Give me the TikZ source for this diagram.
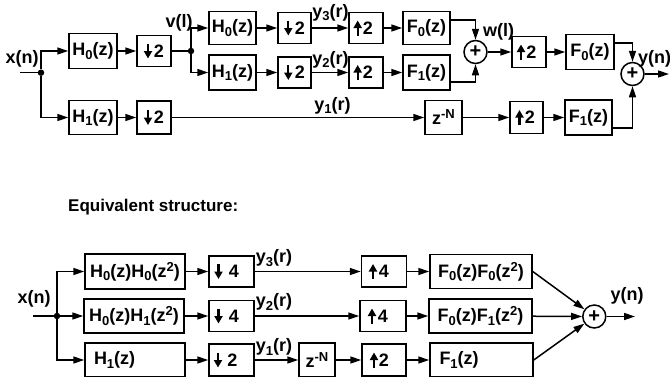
\documentclass[tikz,border=0pt]{standalone}
\usepackage{fontspec}
\setmainfont{Liberation Sans}
\usetikzlibrary{arrows.meta,calc}
\newcommand\sbs[1]{\raisebox{-3.5pt}{\fontsize{13}{13}\selectfont #1}}
\newcommand\sps[1]{\raisebox{6pt}{\fontsize{13}{13}\selectfont #1}}
\tikzset{
  every node/.style={font=\fontsize{18}{21}\selectfont\bfseries},
  box/.style={draw, line width=1.5pt, inner sep=0pt},
  lbox/.style={box, align=left, inner xsep=#1},
  lbl/.style={inner sep=0pt},
  dot/.style={circle, fill, inner sep=0pt, minimum size=6.5pt},
  sumc/.style={circle, draw, line width=1.5pt, minimum size=23pt, inner sep=0pt, font=\fontsize{20}{20}\selectfont\bfseries},
  wire/.style={line width=1.5pt},
  conn/.style={line width=1.5pt, -{Triangle[length=11pt,width=7pt]}},
  symarr/.style={line width=2.3pt, -{Triangle[length=7.5pt,width=8pt]}}
}
\begin{document}
\begin{tikzpicture}[x=1pt,y=-1pt]
\useasboundingbox (0,0) rectangle (670,376);
\clip (0,0) rectangle (670,376);

% ---------- top structure ----------
\coordinate (xin) at (20,72.7);
\node[dot] (j1) at (41,72.7) {};
\node[box, minimum width=48pt, minimum height=35pt] (H0a) at (93,51) {H\sbs{0}(z)};
\node[box, minimum width=34pt, minimum height=31pt] (D1) at (154,51) {\hspace*{10pt}2};
\node[dot] (j2) at (191,51) {};

\node[box, minimum width=47pt, minimum height=33pt] (H0b) at (232.5,28) {H\sbs{0}(z)};
\node[box, minimum width=33pt, minimum height=31pt] (D2) at (294.5,28) {\hspace*{11pt}2};
\node[box, minimum width=34pt, minimum height=31pt] (U1) at (366,28) {\hspace*{4pt}2};
\node[box, minimum width=47pt, minimum height=33pt] (F0a) at (426.5,28) {F\sbs{0}(z)};

\node[box, minimum width=47pt, minimum height=35pt] (H1b) at (232.5,72.5) {H\sbs{1}(z)};
\node[box, minimum width=33pt, minimum height=31pt] (D3) at (294.5,72.5) {\hspace*{11pt}2};
\node[box, minimum width=34pt, minimum height=31pt] (U2) at (366,72.5) {\hspace*{4pt}2};
\node[box, minimum width=47pt, minimum height=35pt] (F1a) at (426.5,72.5) {F\sbs{1}(z)};

\node[sumc] (S1) at (475.5,52) {+};
\node[box, minimum width=34pt, minimum height=31pt] (U3) at (529,52) {\hspace*{4.6pt}2};
\node[box, minimum width=48pt, minimum height=35pt] (F0b) at (590,52) {F\sbs{0}(z)};
\node[sumc] (S2) at (632.5,74) {+};
\coordinate (yout) at (669,74);

\node[box, minimum width=48pt, minimum height=34pt] (H1a) at (93,117.5) {H\sbs{1}(z)};
\node[box, minimum width=34pt, minimum height=33pt] (D4) at (154,117.5) {\hspace*{10pt}2};
\node[box, minimum width=37pt, minimum height=34pt] (Z1) at (443.5,117.5) {z\sps{-N}};
\node[box, minimum width=33pt, minimum height=32pt] (U4) at (526.5,117.5) {\hspace*{7pt}2};
\node[box, minimum width=47pt, minimum height=35pt] (F1b) at (588.5,117.5) {F\sbs{1}(z)};

% sampler symbols (top)
\draw[symarr] ($(D1.center)+(-6,-7.5)$) -- ++(0,15);
\draw[symarr] ($(D2.center)+(-6.2,-7.5)$) -- ++(0,15);
\draw[symarr] ($(D3.center)+(-6.2,-7.5)$) -- ++(0,15);
\draw[symarr] ($(D4.center)+(-6,-7.5)$) -- ++(0,15);
\draw[symarr] ($(U1.center)+(-8.3,7.5)$) -- ++(0,-15);
\draw[symarr] ($(U2.center)+(-8.3,7.5)$) -- ++(0,-15);
\draw[symarr] ($(U3.center)+(-8,7.5)$) -- ++(0,-15);
\draw[symarr] ($(U4.center)+(-7,7.5)$) -- ++(0,-15);

% connectors (top)
\draw[wire] (xin) -- (j1);
\draw[conn] (j1) |- (H0a);
\draw[conn] (j1) |- (H1a);
\draw[conn] (H0a) -- (D1);
\draw[wire] (D1) -- (j2);
\draw[conn] (j2) |- (H0b);
\draw[conn] (j2) |- (H1b);
\draw[conn] (H0b) -- (D2);
\draw[conn] (D2) -- (U1);
\draw[conn] (U1) -- (F0a);
\draw[conn] (H1b) -- (D3);
\draw[conn] (D3) -- (U2);
\draw[conn] (U2) -- (F1a);
\draw[conn] ($(F0a.east)+(0,-8)$) -| (S1);
\draw[conn] ($(F1a.east)+(0,9.5)$) -| (S1);
\draw[conn] (S1) -- (U3);
\draw[conn] (U3) -- (F0b);
\draw[conn] ($(F0b.east)+(0,-9)$) -| (S2);
\draw[conn] (S2) -- (yout);
\draw[conn] (H1a) -- (D4);
\draw[conn] (D4) -- (Z1);
\draw[conn] (Z1) -- (U4);
\draw[conn] (U4) -- (F1b);
\draw[conn] ($(F1b.east)+(0,10.5)$) -| (S2);

% labels (top)
\node[lbl] (lxn) at (22,59) {x(n)};
\node[lbl] (lvl) at (179,23) {v(l)};
\node[lbl] (ly3) at (330.5,12.5) {y\sbs{3}(r)};
\node[lbl] (ly2) at (330.5,59.5) {y\sbs{2}(r)};
\node[lbl] (ly1) at (332.5,105.5) {y\sbs{1}(r)};
\node[lbl] (lwl) at (498.5,31.5) {w(l)};
\node[lbl] (lyn) at (654.5,59) {y(n)};

% ---------- equivalent structure ----------
\node[lbl, anchor=west, font=\fontsize{17}{20}\selectfont\bfseries] (eq) at (68,207) {Equivalent structure:};
\node[lbl] (lxn2) at (34,299) {x(n)};
\coordinate (xin2) at (33,316);
\node[dot] (j3) at (57,316) {};

\node[box, minimum width=100pt, minimum height=35pt] (B1) at (135,271.5) {H\sbs{0}(z)H\sbs{0}(z\sps{2})};
\node[box, minimum width=100pt, minimum height=34pt] (B2) at (134,316) {H\sbs{0}(z)H\sbs{1}(z\sps{2})};
\node[lbox=9pt, text width=82pt, minimum height=34pt] (B3) at (135,360) {H\sbs{1}(z)};

\node[box, minimum width=45pt, minimum height=31pt] (D5) at (231.5,271.5) {\hspace*{5pt}4};
\node[box, minimum width=45pt, minimum height=31pt] (D5b) at (231.5,316) {\hspace*{5pt}4};
\node[box, minimum width=45pt, minimum height=32pt] (D6) at (231.5,360) {\hspace*{2pt}2};

\node[box, minimum width=36pt, minimum height=34pt] (Z2) at (317,360) {z\sps{-N}};

\node[box, minimum width=45pt, minimum height=31pt] (U5) at (384,271.5) {4};
\node[box, minimum width=46pt, minimum height=31pt] (U5b) at (383,316) {4};
\node[box, minimum width=44pt, minimum height=32pt] (U6) at (384,360) {2};

\node[box, minimum width=102pt, minimum height=34pt] (FA) at (481,271.5) {F\sbs{0}(z)F\sbs{0}(z\sps{2})};
\node[box, minimum width=103pt, minimum height=34pt] (FB) at (480.5,316) {F\sbs{0}(z)F\sbs{1}(z\sps{2})};
\node[lbox=9.5pt, text width=84pt, minimum height=34pt] (FC) at (481.5,360) {F\sbs{1}(z)};

\node[sumc] (S3) at (594.3,316.5) {+};
\coordinate (yout2) at (635,316.5);

% sampler symbols (bottom)
\draw[symarr] ($(D5.center)+(-13,-7.5)$) -- ++(0,15);
\draw[symarr] ($(D5b.center)+(-13,-7.5)$) -- ++(0,15);
\draw[symarr] ($(D6.center)+(-13.5,-7.5)$) -- ++(0,15);
\draw[symarr] ($(U5.center)+(-11,7.5)$) -- ++(0,-15);
\draw[symarr] ($(U5b.center)+(-11,7.5)$) -- ++(0,-15);
\draw[symarr] ($(U6.center)+(-10,7.5)$) -- ++(0,-15);

% connectors (bottom)
\draw[wire] (xin2) -- (j3);
\draw[conn] (j3) |- (B1);
\draw[conn] (j3) -- (B2);
\draw[conn] (j3) |- (B3);
\draw[conn] (B1) -- (D5);
\draw[conn] (D5) -- (U5);
\draw[conn] (U5) -- (FA);
\draw[conn] (B2) -- (D5b);
\draw[conn] (D5b) -- (U5b);
\draw[conn] (U5b) -- (FB);
\draw[conn] (B3) -- (D6);
\draw[conn] (D6) -- (Z2);
\draw[conn] (Z2) -- (U6);
\draw[conn] (U6) -- (FC);
\draw[conn] (FA.east) -- (S3);
\draw[conn] (FB) -- (S3);
\draw[conn] (FC.east) -- (S3);
\draw[conn] (S3) -- (yout2);

% labels (bottom)
\node[lbl] (ly3b) at (274,258) {y\sbs{3}(r)};
\node[lbl] (ly2b) at (274,302) {y\sbs{2}(r)};
\node[lbl] (ly1b) at (274,347) {y\sbs{1}(r)};
\node[lbl] (lynb) at (627,296) {y(n)};
\end{tikzpicture}
\end{document}
